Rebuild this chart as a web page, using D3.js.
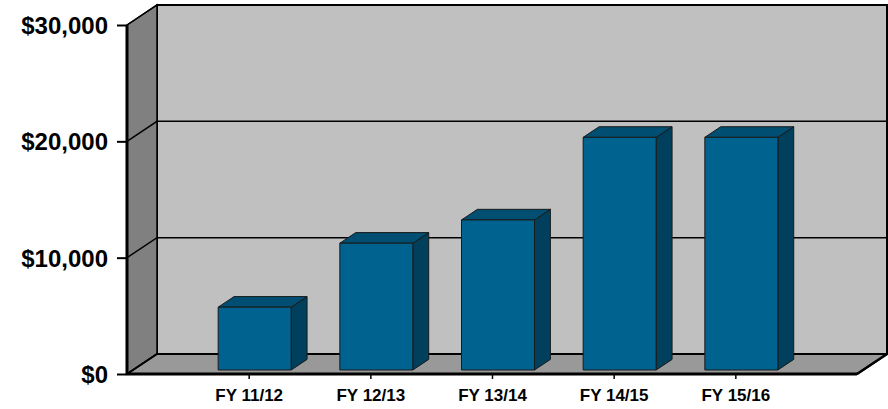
<!DOCTYPE html>
<html><head><meta charset="utf-8">
<script src="https://cdn.jsdelivr.net/npm/d3@7/dist/d3.min.js"></script>
<style>body{margin:0;background:#fff}svg{display:block}text{font-family:"Liberation Sans",Arial,sans-serif;font-weight:bold;fill:#000}</style>
</head><body>
<svg id="c" width="888" height="409"></svg>
<script>
const categories = ["FY 11/12","FY 12/13","FY 13/14","FY 14/15","FY 15/16"];
const values = [5400, 10900, 12900, 20000, 20000];
const yTicks = [0, 10000, 20000, 30000];

const svg = d3.select("#c");
const DX = 30, DY = -20;           // full depth offset
const T0 = 0.2, T1 = 0.73;          // bar depth range
const x = d3.scalePoint().domain(categories).range([127, 857]).padding(1);
const y = d3.scaleLinear().domain([0, 30000]).range([374, 25]);
const x0 = 127, x1 = 857;
const P = (px, py, t) => [px + DX * t, py + DY * t];
const poly = pts => "M" + pts.map(p => p.join(",")).join("L") + "Z";

// back wall
svg.append("path").attr("d", poly([P(x0,y(30000),1),P(x1,y(30000),1),P(x1,y(0),1),P(x0,y(0),1)]))
  .attr("fill","#C0C0C0").attr("stroke","#000").attr("stroke-width",2);
// side wall
svg.append("path").attr("d", poly([P(x0,y(30000),0),P(x0,y(30000),1),P(x0,y(0),1),P(x0,y(0),0)]))
  .attr("fill","#808080").attr("stroke","#000").attr("stroke-width",1.5);
// floor
svg.append("path").attr("d", poly([P(x0,y(0),0),P(x1,y(0),0),P(x1,y(0),1),P(x0,y(0),1)]))
  .attr("fill","#999999").attr("stroke","#000").attr("stroke-width",2);
// gridlines
yTicks.forEach(v => {
  const a = P(x0,y(v),0), b = P(x0,y(v),1), c = P(x1,y(v),1);
  svg.append("path").attr("d", `M${a}L${b}L${c}`).attr("fill","none").attr("stroke","#000").attr("stroke-width",1.5);
});

// bars
const bw = 73;
const g = svg.append("g");
categories.forEach((cat, i) => {
  const cx = x(cat), v = values[i];
  const l = cx - bw/2, r = cx + bw/2;
  const fbl = P(l,y(0),T0), fbr = P(r,y(0),T0), ftl = P(l,y(v),T0), ftr = P(r,y(v),T0);
  const btl = P(l,y(v),T1), btr = P(r,y(v),T1), bbr = P(r,y(0),T1);
  g.append("path").attr("d", poly([ftr,btr,bbr,fbr])).attr("fill","#00405C").attr("stroke","#1a1a1a").attr("stroke-width",1);
  g.append("path").attr("d", poly([ftl,btl,btr,ftr])).attr("fill","#004F72").attr("stroke","#1a1a1a").attr("stroke-width",1);
  g.append("path").attr("d", poly([ftl,ftr,fbr,fbl])).attr("fill","#00628E").attr("stroke","#1a1a1a").attr("stroke-width",1);
});

// floor front-right edge
svg.append("path").attr("d", `M${P(x1,y(0),0)}L${P(x1,y(0),1)}`).attr("stroke","#000").attr("stroke-width",2.5);

// axes
const ya = svg.append("g").attr("transform","translate(127,0)")
  .call(d3.axisLeft(y).tickValues(yTicks).tickSize(10).tickPadding(9).tickFormat(d => "$" + d3.format(",")(d)));
ya.select(".domain").attr("stroke","#000").attr("stroke-width",3).attr("d", `M0,${y(30000)}V${y(0)}`);
ya.selectAll(".tick line").attr("stroke","#000").attr("stroke-width",2);
ya.selectAll("text").style("font-size","24px").attr("dy","0.36em");

const xa = svg.append("g").attr("transform",`translate(0,${y(0)})`)
  .call(d3.axisBottom(x).tickSize(5).tickPadding(10));
xa.select(".domain").attr("stroke","#000").attr("stroke-width",3).attr("d", `M${x0},0H${x1}`);
xa.selectAll(".tick line").attr("stroke","#000").attr("stroke-width",1.5);
xa.selectAll("text").style("font-size","17px");
</script>
</body></html>
